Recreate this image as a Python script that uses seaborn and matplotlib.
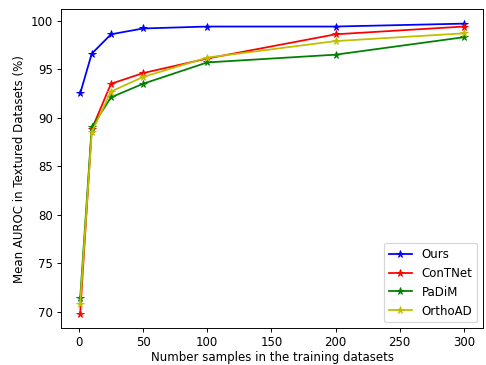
import matplotlib
matplotlib.use("Agg")
import matplotlib.pyplot as plt
import seaborn as sns
import pandas as pd

samples = [1, 10, 25, 50, 100, 200, 300]
ours = [92.5, 96.6, 98.6, 99.2, 99.4, 99.4, 99.7]
contnet = [69.8, 88.8, 93.5, 94.6, 96.1, 98.6, 99.4]
padim = [71.4, 89.0, 92.1, 93.5, 95.7, 96.5, 98.3]
orthoad = [70.8, 88.5, 92.7, 94.2, 96.2, 97.9, 98.7]

methods = ["Ours", "ConTNet", "PaDiM", "OrthoAD"]
colors = ["b", "r", "g", "y"]

rows = []
for name, vals in zip(methods, [ours, contnet, padim, orthoad]):
    for s, v in zip(samples, vals):
        rows.append({"samples": s, "auroc": v, "method": name})
df = pd.DataFrame(rows)

dpi = 85
fig = plt.figure(figsize=(486 / dpi, 365 / dpi), dpi=dpi)
ax = fig.add_axes([0.1255, 0.101, 0.8685, 0.874])

for name, c in zip(methods, colors):
    sub = df[df["method"] == name]
    sns.lineplot(data=sub, x="samples", y="auroc", color=c, marker="*",
                 markersize=6.5, markeredgecolor=c, linewidth=1.5,
                 label=name, ax=ax)

ax.set_xlabel("Number samples in the training datasets", labelpad=1.5)
ax.set_ylabel("Mean AUROC in Textured Datasets (%)")
ax.legend(loc="lower right")

fig.savefig("out.png", dpi=dpi)
